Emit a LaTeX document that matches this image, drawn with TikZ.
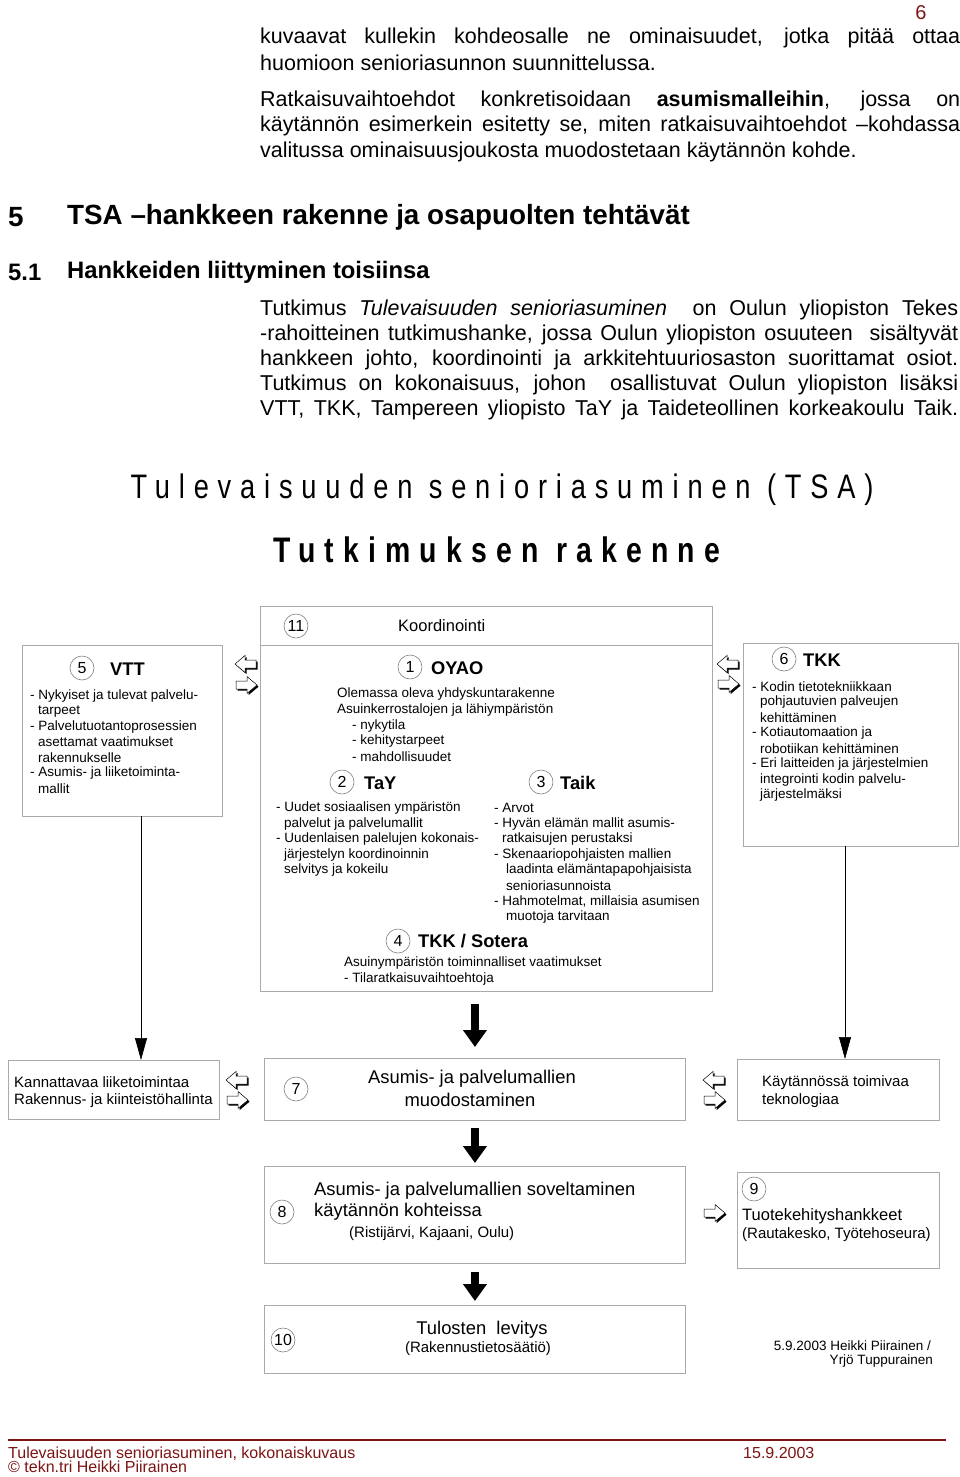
\documentclass[tikz,border=0pt]{standalone}
\usepackage{fontspec}
\setmainfont{Liberation Sans}
\newfontfamily\titlefont{Liberation Sans}[FakeStretch=0.8,LetterSpace=26]
\usetikzlibrary{arrows.meta,calc}
\definecolor{boxgray}{RGB}{170,170,170}
\definecolor{footred}{RGB}{125,20,20}
\newcommand\fsz[1]{\fontsize{#1}{#1}\selectfont}
\begin{document}
\begin{tikzpicture}[x=1pt,y=-1pt,
  txt/.style={anchor=west,inner sep=0pt,font=\fsz{#1},yshift={-0.08*#1}},
  txt/.default=13.5,
  ctxt/.style={anchor=center,inner sep=0pt,font=\fsz{#1},yshift={-0.08*#1}},
  bl/.style={anchor=west,inner sep=0pt,font=\bfseries\fsz{18.3},yshift=-1pt},
  box/.style={draw=boxgray,line width=0.9pt,fill=white,anchor=north west,inner sep=0pt},
  num/.style={circle,draw=gray,line width=0.6pt,inner sep=0pt,minimum size=24pt,font=\fsz{16}},
  thin/.style={line width=0.6pt,-{Triangle[width=12pt,length=22pt]}},
  thick/.style={line width=8pt,-{Triangle[width=23pt,length=17pt]}},
  rarrow/.pic={
    \fill[black,shift={(1.6,1.6)}] (-11,-4) -- (0,-4) -- (0,-8.5) -- (10,0) -- (0,8.5) -- (0,4) -- (-11,4) -- cycle;
    \filldraw[fill=white,draw=black,line width=0.5pt] (-11,-4) -- (0,-4) -- (0,-8.5) -- (10,0) -- (0,8.5) -- (0,4) -- (-11,4) -- cycle;
  },
  larrow/.pic={
    \fill[black,shift={(1.6,1.6)}] (11,-4) -- (0,-4) -- (0,-8.5) -- (-10,0) -- (0,8.5) -- (0,4) -- (11,4) -- cycle;
    \filldraw[fill=white,draw=black,line width=0.5pt] (11,-4) -- (0,-4) -- (0,-8.5) -- (-10,0) -- (0,8.5) -- (0,4) -- (11,4) -- cycle;
  }]
\fill[white] (0,0) rectangle (960,1477);
\useasboundingbox (0,0) rectangle (960,1477);

% page number
\node[ctxt=20,text=footred] (pg) at (921,11) {6};

% top text
\node[txt=21.5] (t1) at (260,36) {\makebox[700pt][s]{kuvaavat kullekin kohdeosalle ne ominaisuudet, jotka pitää ottaa}};
\node[txt=21.5] (t2) at (260,61) {huomioon senioriasunnon suunnittelussa.};
\node[txt=21.5] (t3) at (260,99) {\makebox[700pt][s]{Ratkaisuvaihtoehdot konkretisoidaan \textbf{asumismalleihin}, jossa on}};
\node[txt=21.5] (t4) at (260,124) {\makebox[700pt][s]{käytännön esimerkein esitetty se, miten ratkaisuvaihtoehdot –kohdassa}};
\node[txt=21.5] (t5) at (260,150) {valitussa ominaisuusjoukosta muodostetaan käytännön kohde.};

% headings
\node[anchor=west,inner sep=0pt,font=\bfseries\fsz{27.8},yshift=-2pt] (h1n) at (8,215) {5};
\node[anchor=west,inner sep=0pt,font=\bfseries\fsz{27.8},yshift=-2pt] (h1) at (67,215) {TSA –hankkeen rakenne ja osapuolten tehtävät};
\node[anchor=west,inner sep=0pt,font=\bfseries\fsz{23.8},yshift=-2pt] (h2n) at (8,270) {5.1};
\node[anchor=west,inner sep=0pt,font=\bfseries\fsz{23.8},yshift=-2pt] (h2) at (67,270) {Hankkeiden liittyminen toisiinsa};

% paragraph
\node[txt=21.5] (p1) at (260,308) {\makebox[698pt][s]{Tutkimus \textit{Tulevaisuuden senioriasuminen}\ \ on Oulun yliopiston Tekes}};
\node[txt=21.5] (p2) at (260,333) {\makebox[698pt][s]{-rahoitteinen tutkimushanke, jossa Oulun yliopiston osuuteen\ \ sisältyvät}};
\node[txt=21.5] (p3) at (260,358) {\makebox[698pt][s]{hankkeen johto, koordinointi ja arkkitehtuuriosaston suorittamat osiot.}};
\node[txt=21.5] (p4) at (260,383) {\makebox[698pt][s]{Tutkimus on kokonaisuus, johon\ \ osallistuvat Oulun yliopiston lisäksi}};
\node[txt=21.5] (p5) at (260,408) {\makebox[698pt][s]{VTT, TKK, Tampereen yliopisto TaY ja Taideteollinen korkeakoulu Taik.}};

% diagram title
\node[anchor=center,inner sep=0pt,font=\titlefont\fsz{34}] (ttl1) at (502,490) {Tulevaisuuden senioriasuminen (TSA)};
\node[anchor=center,inner sep=0pt,font=\titlefont\bfseries\fsz{35.5}] (ttl2) at (497,550) {Tutkimuksen rakenne};

% boxes
\node[box,minimum width=452pt,minimum height=39pt] (koord) at (260,606) {};
\node[box,minimum width=452pt,minimum height=346pt] (mainbox) at (260,645) {};
\node[box,minimum width=200pt,minimum height=171pt] (vtt) at (22,645) {};
\node[box,minimum width=215pt,minimum height=203pt] (tkk) at (743,643) {};
\node[box,minimum width=211pt,minimum height=59pt] (kan) at (8,1060) {};
\node[box,minimum width=421pt,minimum height=62pt] (b7) at (264,1058) {};
\node[box,minimum width=202pt,minimum height=61pt] (kay) at (737,1059) {};
\node[box,minimum width=421pt,minimum height=97pt] (b8) at (264,1166) {};
\node[box,minimum width=202pt,minimum height=96pt] (b9) at (737,1172) {};
\node[box,minimum width=421pt,minimum height=68pt] (b10) at (264,1305) {};

% Koordinointi
\node[num] (c11) at (296,626) {11};
\node[txt=16.5] (koordt) at (398,624) {Koordinointi};

% main box contents
\node[num] (c1) at (410,667) {1};
\node[bl] (oyao) at (431,667) {OYAO};
\node[txt] (m1) at (337,693) {Olemassa oleva yhdyskuntarakenne};
\node[txt] (m2) at (337,709) {Asuinkerrostalojen ja lähiympäristön};
\node[txt] (m3) at (352,725) {- nykytila};
\node[txt] (m4) at (352,740) {- kehitystarpeet};
\node[txt] (m5) at (352,756) {- mahdollisuudet};

\node[num] (c2) at (342,782) {2};
\node[bl] (tay) at (364,782) {TaY};
\node[txt] (y1) at (276,807) {- Uudet sosiaalisen ympäristön};
\node[txt] (y2) at (284,823) {palvelut ja palvelumallit};
\node[txt] (y3) at (276,838) {- Uudenlaisen palelujen kokonais-};
\node[txt] (y4) at (284,854) {järjestelyn koordinoinnin};
\node[txt] (y5) at (284,869) {selvitys ja kokeilu};

\node[num] (c3) at (541,782) {3};
\node[bl] (taik) at (560,782) {Taik};
\node[txt] (k1) at (494,807) {- Arvot};
\node[txt] (k2) at (494,823) {- Hyvän elämän mallit asumis-};
\node[txt] (k3) at (502,838) {ratkaisujen perustaksi};
\node[txt] (k4) at (494,854) {- Skenaariopohjaisten mallien};
\node[txt] (k5) at (506,869) {laadinta elämäntapapohjaisista};
\node[txt] (k6) at (506,885) {senioriasunnoista};
\node[txt] (k7) at (494,900) {- Hahmotelmat, millaisia asumisen};
\node[txt] (k8) at (506,916) {muotoja tarvitaan};

\node[num] (c4) at (398,941) {4};
\node[bl] (sot) at (418,940) {TKK / Sotera};
\node[txt] (s1) at (344,962) {Asuinympäristön toiminnalliset vaatimukset};
\node[txt] (s2) at (344,978) {- Tilaratkaisuvaihtoehtoja};

% VTT box
\node[num] (c5) at (82,668) {5};
\node[bl] (vttt) at (110,668) {VTT};
\node[txt] (v1) at (30,695) {- Nykyiset ja tulevat palvelu-};
\node[txt] (v2) at (38,710) {tarpeet};
\node[txt] (v3) at (30,726) {- Palvelutuotantoprosessien};
\node[txt] (v4) at (38,741) {asettamat vaatimukset};
\node[txt] (v5) at (38,757) {rakennukselle};
\node[txt] (v6) at (30,772) {- Asumis- ja liiketoiminta-};
\node[txt] (v7) at (38,788) {mallit};

% TKK box
\node[num] (c6) at (784,659) {6};
\node[bl] (tkkt) at (803,659) {TKK};
\node[txt] (e1) at (752,686) {- Kodin tietotekniikkaan};
\node[txt] (e2) at (760,701) {pohjautuvien palveujen};
\node[txt] (e3) at (760,717) {kehittäminen};
\node[txt] (e4) at (752,732) {- Kotiautomaation ja};
\node[txt] (e5) at (760,748) {robotiikan kehittäminen};
\node[txt] (e6) at (752,763) {- Eri laitteiden ja järjestelmien};
\node[txt] (e7) at (760,779) {integrointi kodin palvelu-};
\node[txt] (e8) at (760,794) {järjestelmäksi};

% lower row
\node[txt=15] (kan1) at (14,1081) {Kannattavaa liiketoimintaa};
\node[txt=15] (kan2) at (14,1099) {Rakennus- ja kiinteistöhallinta};
\node[num] (c7) at (296,1089) {7};
\node[ctxt=18.4] (b7a) at (472,1077) {Asumis- ja palvelumallien};
\node[ctxt=18.4] (b7b) at (470,1098) {muodostaminen};
\node[txt=15] (kay1) at (762,1081) {Käytännössä toimivaa};
\node[txt=15] (kay2) at (762,1099) {teknologiaa};

\node[num] (c8) at (282,1212) {8};
\node[txt=18.4] (b8a) at (314,1189) {Asumis- ja palvelumallien soveltaminen};
\node[txt=18.4] (b8b) at (314,1210) {käytännön kohteissa};
\node[txt=15] (b8c) at (349,1232) {(Ristijärvi, Kajaani, Oulu)};

\node[num] (c9) at (754,1189) {9};
\node[txt=16.5] (b9a) at (742,1215) {Tuotekehityshankkeet};
\node[txt=15] (b9b) at (742,1233) {(Rautakesko, Työtehoseura)};

\node[num] (c10) at (283,1340) {10};
\node[ctxt=18.4] (b10a) at (482,1328) {Tulosten\ \ levitys};
\node[ctxt=15] (b10b) at (478,1347) {(Rakennustietosäätiö)};

\node[anchor=east,inner sep=0pt,font=\fsz{13.5},yshift=-1pt] (sig1) at (931,1345) {5.9.2003 Heikki Piirainen /};
\node[anchor=east,inner sep=0pt,font=\fsz{13.5},yshift=-1pt] (sig2) at (933,1360) {Yrjö Tuppurainen};

% connectors
\coordinate (la) at (141,816);
\coordinate (ra) at (845,846);
\draw[thin] (la) -- (la |- kan.north);
\draw[thin] (ra) -- (ra |- kay.north);
\draw[thick] ($(mainbox.south -| b7.south)+(0,12)$) -- ($(b7.north)+(0,-11)$);
\draw[thick] ($(b7.south)+(0,7)$) -- ($(b8.north)+(0,-3)$);
\draw[thick] ($(b8.south)+(0,8)$) -- ($(b10.north)+(0,-4)$);

% hollow arrows
\pic at (245,664) {larrow};
\pic at (247,685) {rarrow};
\pic at (727,664) {larrow};
\pic at (729,684) {rarrow};
\pic at (236,1080) {larrow};
\pic at (238,1100) {rarrow};
\pic at (713,1080) {larrow};
\pic at (715,1100) {rarrow};
\pic at (715,1213) {rarrow};

% footer
\draw[footred,line width=1.6pt] (8,1440) -- (946,1440);
\node[txt=16,text=footred] (f1) at (8,1452) {Tulevaisuuden senioriasuminen, kokonaiskuvaus};
\node[txt=16,text=footred] (f2) at (743,1452) {15.9.2003};
\node[anchor=west,inner sep=0pt,font=\fsz{16},text=footred] (f3) at (8,1467) {© tekn.tri Heikki Piirainen};
\end{tikzpicture}
\end{document}
